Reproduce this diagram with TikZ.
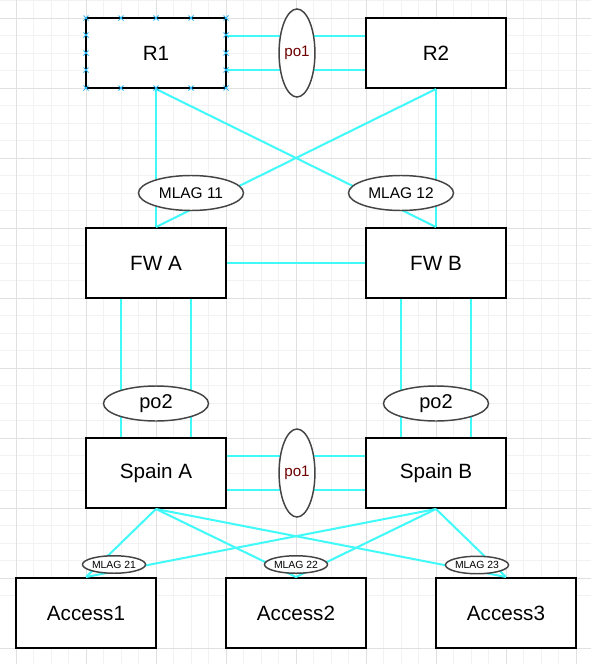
\documentclass[tikz,border=0pt]{standalone}
\usepackage{fontspec}
\setmainfont{Liberation Sans}
\usepackage{tikz}
\usetikzlibrary{shapes.geometric}

\definecolor{link}{RGB}{64,250,250}
\definecolor{rim}{RGB}{68,68,68}
\definecolor{handle}{RGB}{41,182,246}
\definecolor{pored}{RGB}{110,0,0}

\begin{document}
\begin{tikzpicture}[x=0.75pt,y=-0.75pt]
	\tikzstyle{box}=[rectangle, minimum width=105pt, minimum height=52.5pt, inner sep=0pt, text centered, draw=black, line width=1.5pt, fill=white, font=\fontsize{15.5}{18}\selectfont]
	\tikzstyle{bond}=[ellipse, inner sep=0pt, draw=rim, line width=1.1pt, fill=white]
	\tikzstyle{mlag}=[bond, minimum width=78.75pt, minimum height=26.25pt, font=\fontsize{11.6}{13}\selectfont]
	\tikzstyle{lag}=[mlag, font=\fontsize{15}{18}\selectfont]
	\tikzstyle{mlagsmall}=[bond, minimum width=47.25pt, minimum height=13.1pt, font=\fontsize{7.8}{9}\selectfont]
	\tikzstyle{portch}=[bond, minimum width=26.25pt, minimum height=66pt, text=pored, font=\fontsize{11.4}{13}\selectfont]
	\tikzstyle{link}=[draw=link, line width=1.5pt]
	% canvas and grid
	\fill[white] (0,0) rectangle (591,664);
	\useasboundingbox (0,0) rectangle (591,664);
	\foreach \k in {0,...,34} {
		\draw[black!5, line width=0.5pt] ({-1.5+17.5*\k},0) -- ({-1.5+17.5*\k},664);
		\draw[black!5, line width=0.5pt] (0,{0.5+17.5*\k}) -- (591,{0.5+17.5*\k});
	}
	\foreach \k in {0,...,8} {
		\draw[black!12, line width=0.5pt] ({16+70*\k},0) -- ({16+70*\k},664);
	}
	\foreach \k in {0,...,9} {
		\draw[black!12, line width=0.5pt] (0,{18+70*\k}) -- (591,{18+70*\k});
	}
	% devices
	\node[box] (R1) at (156,53) {R1};
	\node[box] (R2) at (436,53) {R2};
	\node[box] (FWA) at (156,263) {FW A};
	\node[box] (FWB) at (436,263) {FW B};
	\node[box] (SpainA) at (156,473) {Spain A};
	\node[box] (SpainB) at (436,473) {Spain B};
	\node[box] (Access1) at (86,613) {Access1};
	\node[box] (Access2) at (296,613) {Access2};
	\node[box] (Access3) at (506,613) {Access3};
	% links
	\draw[link] ([yshift=13.1pt]R1.east) -- ([yshift=13.1pt]R2.west);
	\draw[link] ([yshift=-13.1pt]R1.east) -- ([yshift=-13.1pt]R2.west);
	\draw[link] (R1.south) -- (FWA.north);
	\draw[link] (R1.south) -- (FWB.north);
	\draw[link] (R2.south) -- (FWB.north);
	\draw[link] (R2.south) -- (FWA.north);
	\draw[link] (FWA) -- (FWB);
	\draw[link] ([xshift=-26.25pt]FWA.south) -- ([xshift=-26.25pt]SpainA.north);
	\draw[link] ([xshift=26.25pt]FWA.south) -- ([xshift=26.25pt]SpainA.north);
	\draw[link] ([xshift=-26.25pt]FWB.south) -- ([xshift=-26.25pt]SpainB.north);
	\draw[link] ([xshift=26.25pt]FWB.south) -- ([xshift=26.25pt]SpainB.north);
	\draw[link] ([yshift=13.1pt]SpainA.east) -- ([yshift=13.1pt]SpainB.west);
	\draw[link] ([yshift=-13.1pt]SpainA.east) -- ([yshift=-13.1pt]SpainB.west);
	\draw[link] (SpainA.south) -- (Access1.north);
	\draw[link] (SpainA.south) -- (Access2.north);
	\draw[link] (SpainA.south) -- (Access3.north);
	\draw[link] (SpainB.south) -- (Access1.north);
	\draw[link] (SpainB.south) -- (Access2.north);
	\draw[link] (SpainB.south) -- (Access3.north);
	% bundles
	\node[portch] (po1top) at (297,53) {po1};
	\node[portch] (po1low) at (297,473) {po1};
	\node[mlag] (mlag11) at (191,193) {MLAG 11};
	\node[mlag] (mlag12) at (401,193) {MLAG 12};
	\node[lag] (po2A) at (156,403.5) {po2};
	\node[lag] (po2B) at (436,403.5) {po2};
	\node[mlagsmall] (mlag21) at (114,564.5) {MLAG 21};
	\node[mlagsmall] (mlag22) at (296,564.5) {MLAG 22};
	\node[mlagsmall] (mlag23) at (477,565) {MLAG 23};
	% selection handles on R1
	\foreach \hx/\hy in {86/18,121/18,156/18,191/18,226/18,86/88,121/88,156/88,191/88,226/88,86/35,86/53,86/70,226/35,226/53,226/70} {
		\draw[handle, line width=0.7pt] (\hx-2.5,\hy-2.5) -- (\hx+2.5,\hy+2.5) (\hx-2.5,\hy+2.5) -- (\hx+2.5,\hy-2.5);
	}
\end{tikzpicture}
\end{document}
